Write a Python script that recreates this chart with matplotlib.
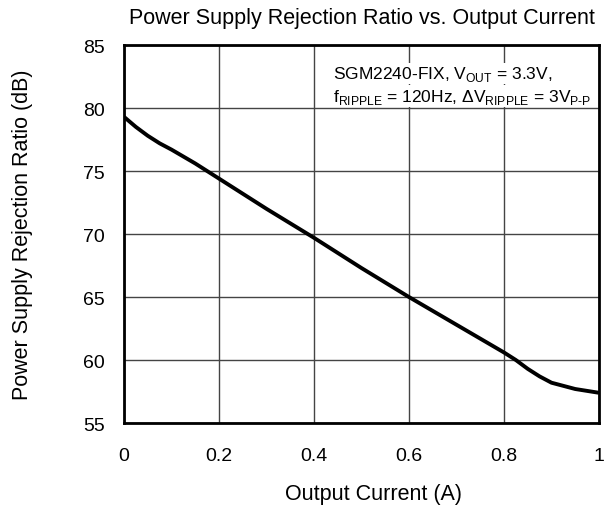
import matplotlib
matplotlib.use("Agg")
import matplotlib.pyplot as plt

plt.rcParams['font.family'] = ['Liberation Sans', 'DejaVu Sans']
plt.rcParams['mathtext.fontset'] = 'custom'
plt.rcParams['mathtext.rm'] = 'Liberation Sans'

current = [0, 0.025, 0.05, 0.075, 0.1, 0.15, 0.2, 0.3, 0.4, 0.5, 0.6, 0.7, 0.8, 0.825, 0.85, 0.875, 0.9, 0.95, 1.0]
psrr = [79.3, 78.5, 77.8, 77.2, 76.7, 75.6, 74.4, 72.0, 69.7, 67.3, 65.0, 62.8, 60.6, 60.0, 59.3, 58.7, 58.2, 57.7, 57.4]
xticks = [0, 0.2, 0.4, 0.6, 0.8, 1]
xticklabels = ['0', '0.2', '0.4', '0.6', '0.8', '1']
yticks = [55, 60, 65, 70, 75, 80, 85]

fig = plt.figure(figsize=(6.07, 5.06), dpi=100)
ax = fig.add_axes([0.2043, 0.162, 0.7825, 0.747])
ax.plot(current, psrr, color='black', lw=2.8, solid_capstyle='butt', solid_joinstyle='round')
ax.set_xlim(0, 1)
ax.set_ylim(55, 85)
ax.set_xticks(xticks)
ax.set_xticklabels(xticklabels)
ax.set_yticks(yticks)
ax.grid(True, color='#444444', lw=1.0)
ax.tick_params(length=0, labelsize=14)
ax.tick_params(axis='x', pad=17)
ax.tick_params(axis='y', pad=14)
for s in ax.spines.values():
    s.set_linewidth(2)
    s.set_color('black')
ax.set_title('Power Supply Rejection Ratio vs. Output Current', fontsize=15.5, pad=16)
ax.set_xlabel('Output Current (A)', fontsize=15.5)
ax.set_ylabel('Power Supply Rejection Ratio (dB)', fontsize=15.5)
ax.xaxis.set_label_coords(0.526, -0.158)
ax.yaxis.set_label_coords(-0.192, 0.5)

ax.text(0.44, 0.95, r'SGM2240-FIX, V$_{\mathregular{OUT}}$ = 3.3V,', transform=ax.transAxes,
        fontsize=12.5, va='top', ha='left',
        bbox=dict(facecolor='white', edgecolor='none', pad=1))
ax.text(0.44, 0.89, r'f$_{\mathregular{RIPPLE}}$ = 120Hz, ΔV$_{\mathregular{RIPPLE}}$ = 3V$_{\mathregular{P\text{-}P}}$',
        transform=ax.transAxes, fontsize=12.5, va='top', ha='left',
        bbox=dict(facecolor='white', edgecolor='none', pad=1))

fig.savefig('out.png', dpi=100)
